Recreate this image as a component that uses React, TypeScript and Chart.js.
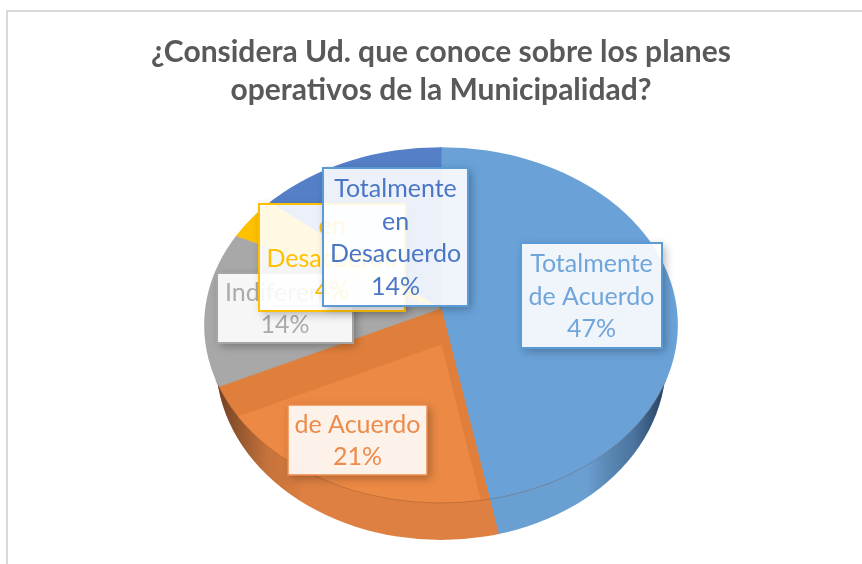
import React, { useEffect, useRef } from "react";
import { Chart, registerables } from "chart.js";

Chart.register(...registerables);

const categories = ["Totalmente de Acuerdo", "de Acuerdo", "Indiferente", "en Desacuerdo", "Totalmente en Desacuerdo"];
const values = [47, 21, 14, 4, 14];
const titleLines = ["¿Considera Ud. que conoce sobre los planes", "operativos de la Municipalidad?"];
const labelLines = [
  ["Totalmente", "de Acuerdo"],
  ["de Acuerdo"],
  ["Indiferente"],
  ["en", "Desacuerdo"],
  ["Totalmente", "en", "Desacuerdo"],
];
const faceColors = ["#6AA2D8", "#E07F3B", "#A8A8A8", "#FFC000", "#5580C8"];
const wallColors = ["#6A9FD2", "#DE8042", "#8F8F8F", "#D9A400", "#4A6FAE"];
const innerColors = [null, "#EC8944", null, null, null];
const textColors = ["#6FA5DB", "#ED8B4A", "#ABABAB", "#FFC000", "#4A76C6"];
const borderColors = ["#5B9BD5", "#EE8A48", "#A5A5A5", "#FFC000", "#5B9BD5"];
// label boxes: left, top, right, bottom in page pixels
const labelBoxes = [
  [521, 243, 662, 348],
  [288, 405, 427, 475],
  [217, 273, 353, 343],
  [259, 204, 405, 311],
  [323, 168, 468, 306],
];
const labelOrder = [0, 1, 2, 3, 4];

const WIDTH_RATIO = 237 / 178;

function drawLayer(ctx: any, arcs: any[], colors: (string | null)[], apexDy: number, clipDy: number, clipRx: number) {
  const { x: cx, y: cy, outerRadius: R } = arcs[0];
  ctx.save();
  ctx.beginPath();
  ctx.ellipse(cx, cy + clipDy, clipRx, R, 0, 0, Math.PI * 2);
  ctx.clip();
  ctx.translate(cx, cy + apexDy);
  ctx.scale(2 * WIDTH_RATIO, 2);
  ctx.translate(-cx, -cy);
  arcs.forEach((arc, i) => {
    if (!colors[i]) return;
    const orig = arc.options;
    arc.options = { ...orig, backgroundColor: colors[i], borderColor: colors[i], borderWidth: 0.4 };
    arc.draw(ctx);
    arc.options = orig;
  });
  ctx.restore();
}

const piePlugin = {
  id: "pie3d",
  beforeDatasetsDraw(chart: any) {
    const ctx = chart.ctx;
    const arcs = chart.getDatasetMeta(0).data;
    const { x: cx, y: cy, outerRadius: R } = arcs[0];
    const rx = R * WIDTH_RATIO;
    // side wall
    drawLayer(ctx, arcs, wallColors, -17, 37, 225);
    ctx.save();
    ctx.beginPath();
    ctx.ellipse(cx, cy + 37, 225, R, 0, 0, Math.PI * 2);
    ctx.clip();
    const g = ctx.createLinearGradient(cx - 228, 0, cx + 228, 0);
    g.addColorStop(0, "rgba(50,30,20,0.7)");
    g.addColorStop(0.12, "rgba(60,40,20,0.15)");
    g.addColorStop(0.2, "rgba(0,0,0,0)");
    g.addColorStop(0.82, "rgba(0,0,0,0)");
    g.addColorStop(0.92, "rgba(20,40,70,0.35)");
    g.addColorStop(0.98, "rgba(20,35,60,0.7)");
    g.addColorStop(1, "rgba(20,35,60,0.75)");
    ctx.fillStyle = g;
    ctx.fillRect(cx - 240, cy, 480, R + 60);
    ctx.restore();
    // top face
    drawLayer(ctx, arcs, faceColors, -17, 0, rx);
    drawLayer(ctx, arcs, innerColors, 20, 0, rx);
    // rim
    ctx.save();
    ctx.beginPath();
    ctx.ellipse(cx, cy, rx, R, 0, Math.PI * 0.1, Math.PI * 0.9);
    ctx.strokeStyle = "rgba(120,70,40,0.3)";
    ctx.lineWidth = 1;
    ctx.stroke();
    ctx.restore();
    return false;
  },
  afterDraw(chart: any) {
    const ctx = chart.ctx;
    const total = values.reduce((a, b) => a + b, 0);
    labelOrder.forEach((i) => {
      const [l, t, r, b] = labelBoxes[i];
      // shadow only outside the box, so the translucent fill stays clean
      ctx.save();
      ctx.beginPath();
      ctx.rect(0, 0, chart.width, chart.height);
      ctx.rect(l, t, r - l, b - t);
      ctx.clip("evenodd");
      ctx.shadowColor = "rgba(0,0,0,0.3)";
      ctx.shadowBlur = 9;
      ctx.shadowOffsetX = 3;
      ctx.shadowOffsetY = 3;
      ctx.fillStyle = "#fff";
      ctx.fillRect(l, t, r - l, b - t);
      ctx.restore();
      ctx.save();
      ctx.fillStyle = "rgba(255,255,255,0.89)";
      ctx.fillRect(l, t, r - l, b - t);
      ctx.strokeStyle = borderColors[i];
      ctx.lineWidth = i === 1 ? 1.5 : 2;
      ctx.strokeRect(l, t, r - l, b - t);
      const lines = [...labelLines[i], `${Math.round((values[i] / total) * 100)}%`];
      ctx.fillStyle = textColors[i];
      ctx.font = "25px Lato";
      ctx.textAlign = "center";
      ctx.textBaseline = "middle";
      const lh = 32.5;
      const mid = (t + b) / 2 + 1;
      lines.forEach((s: string, k: number) => {
        ctx.fillText(s, (l + r) / 2, mid + (k - (lines.length - 1) / 2) * lh);
      });
      ctx.restore();
    });
  },
};

export default function App() {
  const ref = useRef<HTMLCanvasElement>(null);
  useEffect(() => {
    const chart = new Chart(ref.current as HTMLCanvasElement, {
      type: "pie",
      data: {
        labels: categories,
        datasets: [{ data: values, backgroundColor: faceColors, borderWidth: 0 }],
      },
      options: {
        responsive: false,
        animation: false,
        layout: { padding: { left: 20, right: 0, top: 0, bottom: 61 } },
        plugins: {
          legend: { display: false },
          tooltip: { enabled: false },
          title: {
            display: true,
            text: titleLines,
            color: "#595959",
            font: { family: "Lato", size: 30, weight: "bold", lineHeight: 1.27 },
            padding: { top: 33, bottom: 38 },
          },
        },
      },
      plugins: [piePlugin],
    } as any);
    return () => chart.destroy();
  }, []);
  return (
    <div style={{ position: "fixed", left: 0, top: 0, width: 862, height: 564, background: "#fff", overflow: "hidden" }}>
      <div
        style={{
          position: "absolute",
          left: 6,
          top: 10,
          width: 860,
          height: 560,
          borderLeft: "2px solid #D9D9D9",
          borderTop: "2px solid #D9D9D9",
        }}
      />
      <canvas
        ref={ref}
        width={862}
        height={564}
        style={{ position: "absolute", left: 0, top: 0, display: "block", filter: "blur(0.45px)" }}
      />
    </div>
  );
}
